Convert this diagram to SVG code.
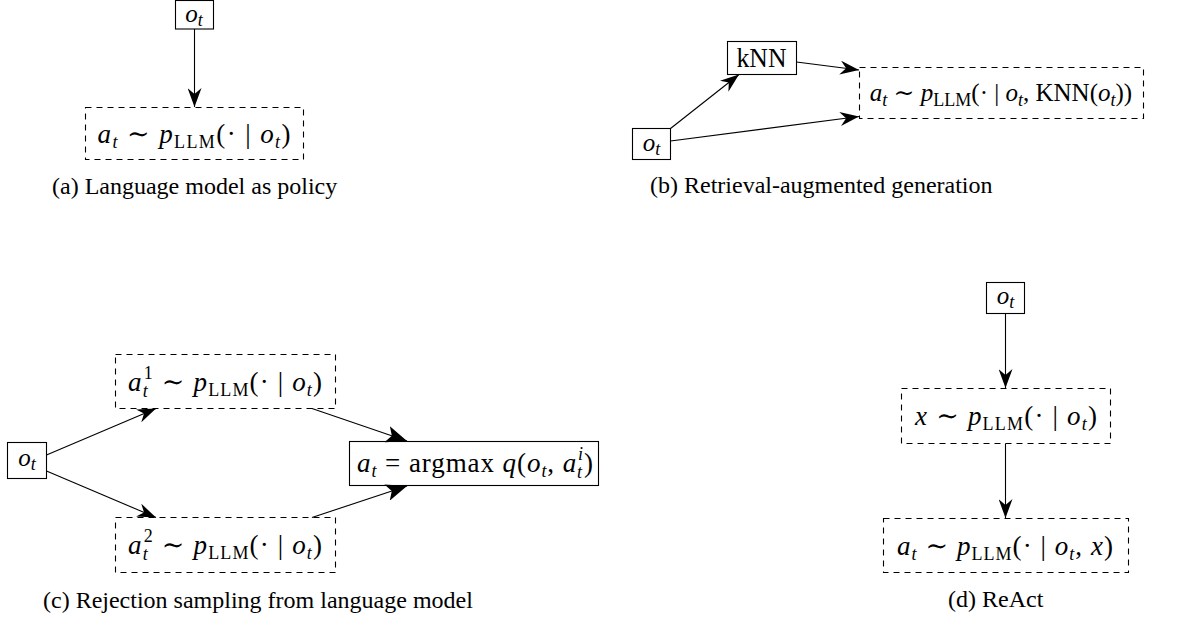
<svg xmlns="http://www.w3.org/2000/svg" width="1189" height="619" viewBox="0 0 1189 619">
<style>
  .bg{fill:#fff}
  .solid{fill:#fff;stroke:#000;stroke-width:1.1}
  .dash{fill:#fff;stroke:#000;stroke-width:1.1;stroke-dasharray:6 5}
  .m{font-family:"Liberation Serif","DejaVu Serif",serif;font-size:27px;fill:#000;text-anchor:middle}
  .o{font-size:25px}
  .mb{font-size:25px}
  .i{font-style:italic}
  .sb{font-size:18px;font-style:italic}
  .sr{font-size:18px;font-style:normal}
  .cap{font-family:"Liberation Serif","DejaVu Serif",serif;font-size:24px;fill:#000}
  .c{fill:none;stroke:#000;stroke-width:1.1}
</style>
<defs>
  <marker id="ah" viewBox="0 0 19 14" refX="19" refY="7" markerWidth="19" markerHeight="14" markerUnits="userSpaceOnUse" orient="auto">
    <path d="M0,0 L19,7 L0,14 L6,7 Z" fill="#000"/>
  </marker>
  <marker id="ahb" viewBox="0 0 21 17" refX="21" refY="8.5" markerWidth="21" markerHeight="17" markerUnits="userSpaceOnUse" orient="auto">
    <path d="M0,0 L21,8.5 L0,17 L5,8.5 Z" fill="#000"/>
  </marker>
</defs>
<rect class="bg" x="0" y="0" width="1189" height="619"/>

<!-- (a) -->
<g id="a-ot">
  <rect class="solid" x="175.5" y="0.5" width="38" height="28.5"/>
  <text class="m o" x="194" y="22"><tspan class="i">o</tspan><tspan class="sb" dy="4">t</tspan></text>
</g>
<g id="a-policy">
  <rect class="dash" x="85.5" y="107.5" width="218" height="52"/>
  <text class="m" x="194" y="143" textLength="193" lengthAdjust="spacing"><tspan class="i">a</tspan><tspan class="sb" dy="5">t</tspan><tspan dy="-5"> ∼ </tspan><tspan class="i">p</tspan><tspan class="sr" dy="5">LLM</tspan><tspan dy="-5">(· | </tspan><tspan class="i">o</tspan><tspan class="sb" dy="5">t</tspan><tspan dy="-5">)</tspan></text>
</g>
<text id="cap-a" class="cap" x="52" y="194">(a) Language model as policy</text>

<!-- (b) -->
<g id="b-knn">
  <rect class="solid" x="727.5" y="41.5" width="69" height="33"/>
  <text class="m" x="761.5" y="67" textLength="50" lengthAdjust="spacingAndGlyphs">kNN</text>
</g>
<g id="b-ot">
  <rect class="solid" x="632.5" y="128.5" width="38" height="31"/>
  <text class="m o" x="651.5" y="151"><tspan class="i">o</tspan><tspan class="sb" dy="4">t</tspan></text>
</g>
<g id="b-policy">
  <rect class="dash" x="859.5" y="67.5" width="284" height="51"/>
  <text class="m mb" x="1001" y="101"><tspan class="i">a</tspan><tspan class="sb" dy="5">t</tspan><tspan dy="-5"> ∼ </tspan><tspan class="i">p</tspan><tspan class="sr" dy="5">LLM</tspan><tspan dy="-5">(· | </tspan><tspan class="i">o</tspan><tspan class="sb" dy="5">t</tspan><tspan dy="-5">, KNN(</tspan><tspan class="i">o</tspan><tspan class="sb" dy="5">t</tspan><tspan dy="-5">))</tspan></text>
</g>
<text id="cap-b" class="cap" x="650" y="193">(b) Retrieval-augmented generation</text>

<!-- (c) -->
<g id="c-ot">
  <rect class="solid" x="7.5" y="442.5" width="39" height="36"/>
  <text class="m o" x="27" y="466"><tspan class="i">o</tspan><tspan class="sb" dy="4">t</tspan></text>
</g>
<g id="c-sample1">
  <rect class="dash" x="115.5" y="354.5" width="220" height="54"/>
  <text class="m" x="225" y="391" textLength="194" lengthAdjust="spacing"><tspan class="i">a</tspan><tspan class="sb" dy="6">t</tspan><tspan class="sr" dx="-5" dy="-18">1</tspan><tspan dy="12"> ∼ </tspan><tspan class="i">p</tspan><tspan class="sr" dy="5">LLM</tspan><tspan dy="-5">(· | </tspan><tspan class="i">o</tspan><tspan class="sb" dy="5">t</tspan><tspan dy="-5">)</tspan></text>
</g>
<g id="c-sample2">
  <rect class="dash" x="115.5" y="517.5" width="220" height="55"/>
  <text class="m" x="225" y="554" textLength="194" lengthAdjust="spacing"><tspan class="i">a</tspan><tspan class="sb" dy="6">t</tspan><tspan class="sr" dx="-5" dy="-18">2</tspan><tspan dy="12"> ∼ </tspan><tspan class="i">p</tspan><tspan class="sr" dy="5">LLM</tspan><tspan dy="-5">(· | </tspan><tspan class="i">o</tspan><tspan class="sb" dy="5">t</tspan><tspan dy="-5">)</tspan></text>
</g>
<g id="c-argmax">
  <rect class="solid" x="349.5" y="441.5" width="249" height="44"/>
  <text class="m" x="475" y="472" textLength="236" lengthAdjust="spacing"><tspan class="i">a</tspan><tspan class="sb" dy="5">t</tspan><tspan dy="-5"> = argmax </tspan><tspan class="i">q</tspan><tspan>(</tspan><tspan class="i">o</tspan><tspan class="sb" dy="5">t</tspan><tspan dy="-5">, </tspan><tspan class="i">a</tspan><tspan class="sb" dy="6">t</tspan><tspan class="sb" dx="-5" dy="-18">i</tspan><tspan dy="12">)</tspan></text>
</g>
<text id="cap-c" class="cap" x="43" y="608">(c) Rejection sampling from language model</text>

<!-- (d) -->
<g id="d-ot">
  <rect class="solid" x="986.5" y="282.5" width="38" height="31"/>
  <text class="m o" x="1005.5" y="304"><tspan class="i">o</tspan><tspan class="sb" dy="4">t</tspan></text>
</g>
<g id="d-thought">
  <rect class="dash" x="901.5" y="388.5" width="209" height="55"/>
  <text class="m" x="1006" y="425" textLength="182" lengthAdjust="spacing"><tspan class="i">x</tspan><tspan> ∼ </tspan><tspan class="i">p</tspan><tspan class="sr" dy="5">LLM</tspan><tspan dy="-5">(· | </tspan><tspan class="i">o</tspan><tspan class="sb" dy="5">t</tspan><tspan dy="-5">)</tspan></text>
</g>
<g id="d-action">
  <rect class="dash" x="883.5" y="518.5" width="245" height="54"/>
  <text class="m" x="1005" y="555" textLength="216" lengthAdjust="spacing"><tspan class="i">a</tspan><tspan class="sb" dy="5">t</tspan><tspan dy="-5"> ∼ </tspan><tspan class="i">p</tspan><tspan class="sr" dy="5">LLM</tspan><tspan dy="-5">(· | </tspan><tspan class="i">o</tspan><tspan class="sb" dy="5">t</tspan><tspan dy="-5">, </tspan><tspan class="i">x</tspan><tspan>)</tspan></text>
</g>
<text id="cap-d" class="cap" x="948" y="607">(d) ReAct</text>

<!-- connectors -->
<g id="connectors">
  <line class="c" x1="194.5" y1="29" x2="194.5" y2="107" marker-end="url(#ah)"/>
  <line class="c" x1="670.5" y1="128.5" x2="739" y2="74.5" marker-end="url(#ah)"/>
  <line class="c" x1="796.5" y1="62" x2="859" y2="70" marker-end="url(#ah)"/>
  <line class="c" x1="670.5" y1="141" x2="859" y2="116.5" marker-end="url(#ah)"/>
  <line class="c" x1="46.5" y1="455" x2="156" y2="408.5" marker-end="url(#ah)"/>
  <line class="c" x1="46.5" y1="471" x2="156" y2="517.5" marker-end="url(#ah)"/>
  <line class="c" x1="312" y1="408.5" x2="407" y2="441" marker-end="url(#ahb)"/>
  <line class="c" x1="312" y1="517.5" x2="407" y2="486" marker-end="url(#ahb)"/>
  <line class="c" x1="1005.5" y1="313.5" x2="1005.5" y2="388" marker-end="url(#ah)"/>
  <line class="c" x1="1005.5" y1="443.5" x2="1005.5" y2="518" marker-end="url(#ah)"/>
</g>
</svg>
